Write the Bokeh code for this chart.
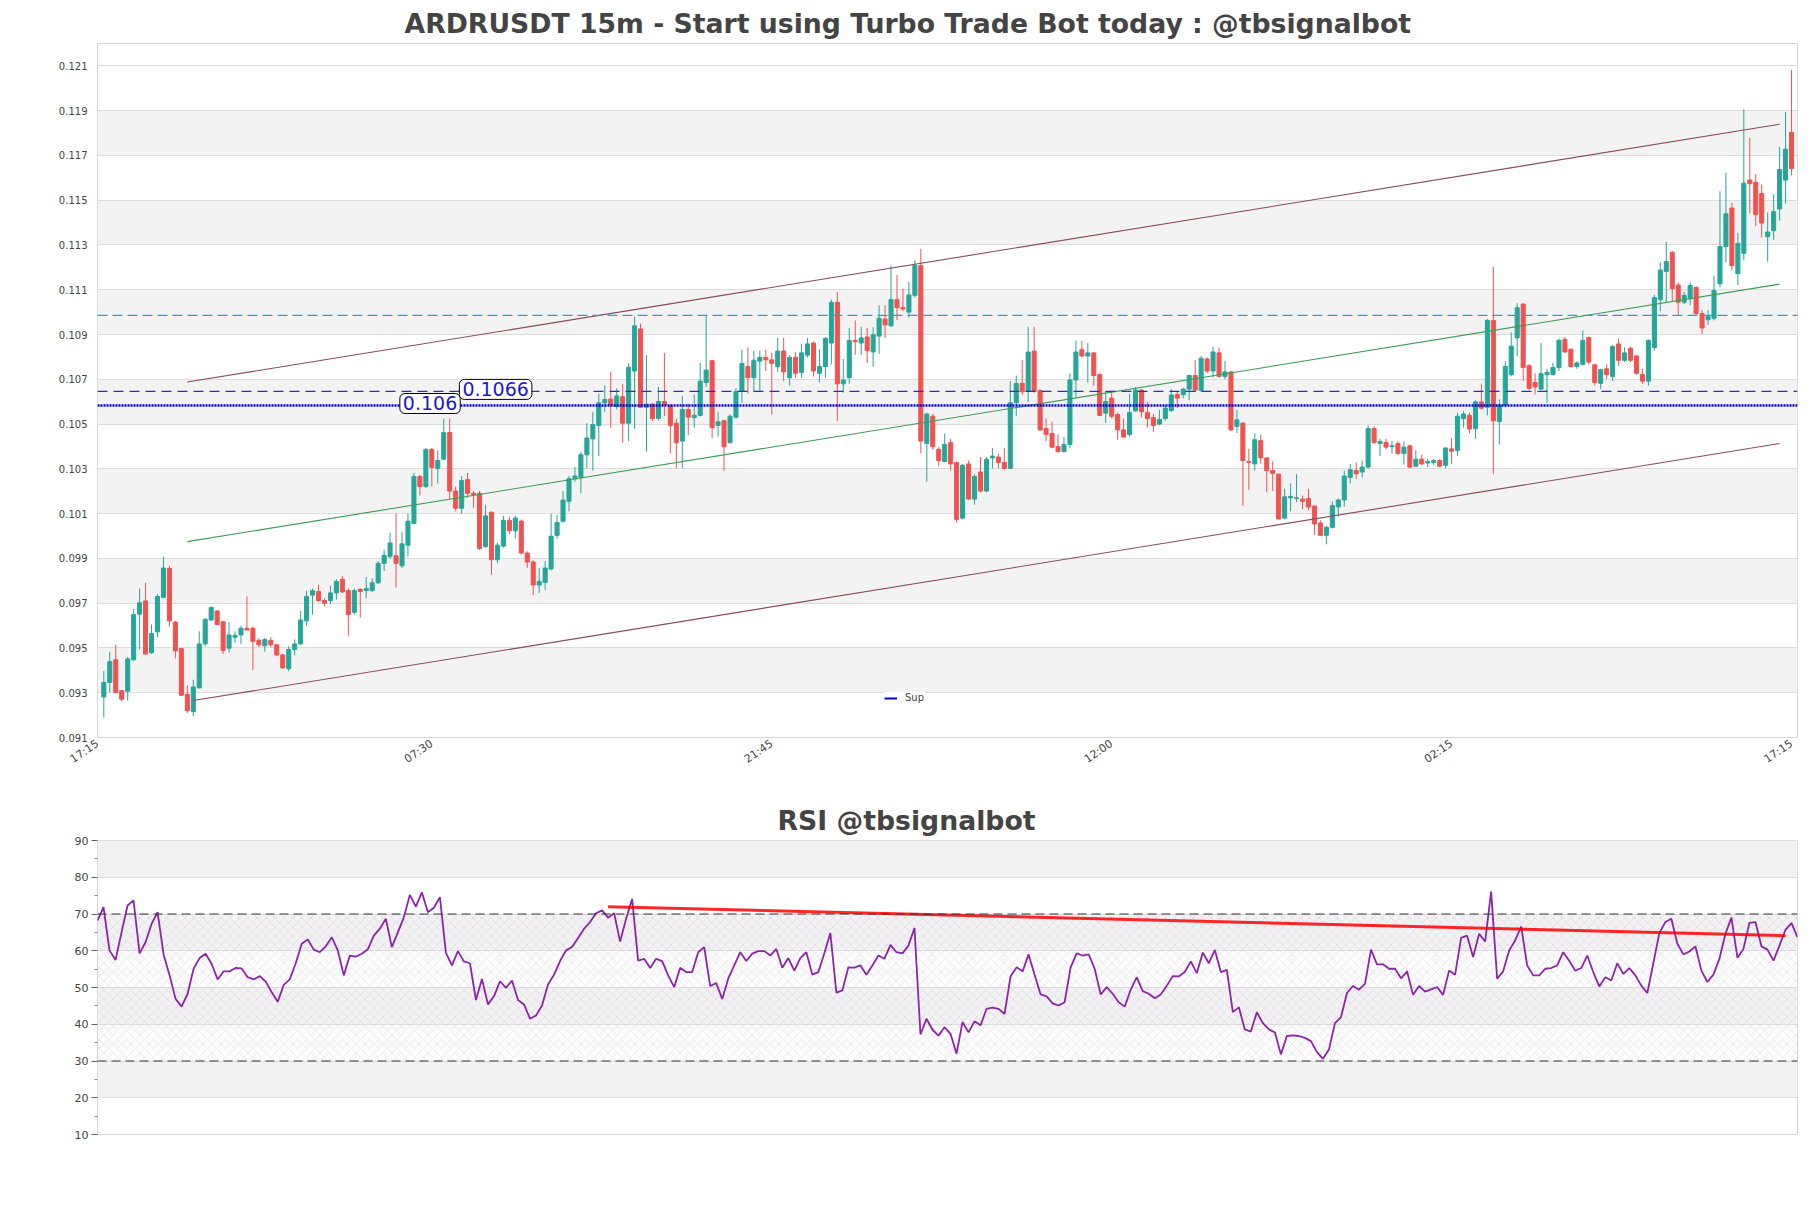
from bokeh.plotting import figure
from bokeh.layouts import column
from bokeh.models import (ColumnDataSource, FixedTicker, Span, BoxAnnotation, Label,
                          Legend, LegendItem, Range1d, PrintfTickFormatter)
from bokeh.embed import file_html
from bokeh.resources import INLINE

title_main = "ARDRUSDT 15m - Start using Turbo Trade Bot today : @tbsignalbot"
title_rsi = "RSI @tbsignalbot"

opens = [0.09281, 0.09346, 0.09447, 0.09309, 0.09307, 0.09447, 0.09651, 0.09710, 0.09479, 0.09572,
 0.09726, 0.09855, 0.09615, 0.09497, 0.09293, 0.09216, 0.09322, 0.09518, 0.09625, 0.09665,
 0.09617, 0.09499, 0.09548, 0.09558, 0.09588, 0.09588, 0.09534, 0.09510, 0.09534, 0.09514,
 0.09469, 0.09407, 0.09493, 0.09518, 0.09621, 0.09736, 0.09752, 0.09712, 0.09712, 0.09746,
 0.09807, 0.09756, 0.09659, 0.09762, 0.09756, 0.09756, 0.09791, 0.09878, 0.09908, 0.09912,
 0.09867, 0.09959, 0.10056, 0.10266, 0.10221, 0.10387, 0.10302, 0.10343, 0.10462, 0.10201,
 0.10124, 0.10252, 0.10191, 0.10191, 0.09952, 0.10106, 0.09894, 0.09955, 0.10070, 0.10023,
 0.10066, 0.09924, 0.09884, 0.09781, 0.09793, 0.09853, 0.10003, 0.10066, 0.10155, 0.10256,
 0.10262, 0.10363, 0.10434, 0.10494, 0.10595, 0.10612, 0.10579, 0.10622, 0.10504, 0.10737,
 0.10925, 0.10575, 0.10589, 0.10525, 0.10601, 0.10583, 0.10504, 0.10424, 0.10565, 0.10529,
 0.10539, 0.10686, 0.10783, 0.10494, 0.10515, 0.10417, 0.10531, 0.10646, 0.10757, 0.10707,
 0.10781, 0.10798, 0.10787, 0.10757, 0.10826, 0.10707, 0.10798, 0.10731, 0.10808, 0.10862,
 0.10727, 0.10757, 0.10862, 0.11044, 0.10680, 0.10707, 0.10874, 0.10862, 0.10889, 0.10822,
 0.10893, 0.10969, 0.10939, 0.11056, 0.11020, 0.11000, 0.11075, 0.11208, 0.10413, 0.10535,
 0.10387, 0.10333, 0.10417, 0.10328, 0.10080, 0.10322, 0.10165, 0.10286, 0.10201, 0.10349,
 0.10353, 0.10329, 0.10302, 0.10595, 0.10682, 0.10646, 0.10826, 0.10650, 0.10480, 0.10458,
 0.10399, 0.10377, 0.10409, 0.10697, 0.10832, 0.10804, 0.10818, 0.10721, 0.10549, 0.10616,
 0.10543, 0.10474, 0.10454, 0.10559, 0.10652, 0.10551, 0.10529, 0.10500, 0.10525, 0.10561,
 0.10632, 0.10632, 0.10656, 0.10717, 0.10650, 0.10791, 0.10737, 0.10818, 0.10713, 0.10733,
 0.10490, 0.10504, 0.10333, 0.10322, 0.10426, 0.10349, 0.10292, 0.10276, 0.10080, 0.10171,
 0.10167, 0.10165, 0.10167, 0.10134, 0.10058, 0.10003, 0.10039, 0.10130, 0.10161, 0.10262,
 0.10292, 0.10286, 0.10308, 0.10480, 0.10413, 0.10418, 0.10400, 0.10413, 0.10369, 0.10403,
 0.10312, 0.10343, 0.10326, 0.10329, 0.10337, 0.10316, 0.10389, 0.10383, 0.10525, 0.10539,
 0.10480, 0.10599, 0.10575, 0.10963, 0.10511, 0.10585, 0.10721, 0.10885, 0.11036, 0.10761,
 0.10686, 0.10656, 0.10721, 0.10721, 0.10753, 0.10878, 0.10834, 0.10757, 0.10767, 0.10887,
 0.10765, 0.10682, 0.10747, 0.10713, 0.10858, 0.10785, 0.10838, 0.10804, 0.10721, 0.10692,
 0.10842, 0.11056, 0.11182, 0.11267, 0.11121, 0.11044, 0.11060, 0.11111, 0.10994, 0.10966,
 0.10973, 0.11127, 0.11293, 0.11465, 0.11172, 0.11263, 0.11590, 0.11580, 0.11530, 0.11337,
 0.11364, 0.11461, 0.11590, 0.11803]

highs = [0.09398, 0.09483, 0.09514, 0.09309, 0.09459, 0.09675, 0.09766, 0.09791, 0.09605, 0.09742,
 0.09908, 0.09867, 0.09621, 0.09497, 0.09332, 0.09358, 0.09574, 0.09635, 0.09685, 0.09669,
 0.09621, 0.09615, 0.09574, 0.09599, 0.09730, 0.09595, 0.09544, 0.09544, 0.09548, 0.09518,
 0.09473, 0.09508, 0.09538, 0.09665, 0.09756, 0.09766, 0.09783, 0.09722, 0.09777, 0.09807,
 0.09821, 0.09766, 0.09766, 0.09766, 0.09817, 0.09811, 0.09888, 0.09938, 0.10015, 0.10100,
 0.10019, 0.10100, 0.10282, 0.10272, 0.10393, 0.10393, 0.10383, 0.10525, 0.10525, 0.10221,
 0.10268, 0.10282, 0.10201, 0.10201, 0.10140, 0.10110, 0.09969, 0.10090, 0.10086, 0.10090,
 0.10074, 0.09932, 0.09892, 0.09857, 0.09888, 0.10100, 0.10094, 0.10201, 0.10268, 0.10308,
 0.10377, 0.10504, 0.10555, 0.10636, 0.10672, 0.10733, 0.10660, 0.10680, 0.10773, 0.10980,
 0.10949, 0.10808, 0.10595, 0.10666, 0.10818, 0.10589, 0.10525, 0.10626, 0.10591, 0.10632,
 0.10773, 0.10988, 0.10787, 0.10555, 0.10519, 0.10543, 0.10660, 0.10832, 0.10842, 0.10828,
 0.10828, 0.10832, 0.10818, 0.10885, 0.10885, 0.10808, 0.10822, 0.10858, 0.10885, 0.10868,
 0.10834, 0.10889, 0.11056, 0.11089, 0.10791, 0.10929, 0.10963, 0.10935, 0.10929, 0.10933,
 0.11030, 0.11030, 0.11208, 0.11166, 0.11105, 0.11135, 0.11232, 0.11283, 0.10551, 0.10545,
 0.10397, 0.10458, 0.10434, 0.10333, 0.10322, 0.10337, 0.10276, 0.10353, 0.10353, 0.10393,
 0.10369, 0.10393, 0.10692, 0.10717, 0.10787, 0.10935, 0.10935, 0.10656, 0.10525, 0.10511,
 0.10454, 0.10444, 0.10727, 0.10874, 0.10872, 0.10862, 0.10822, 0.10727, 0.10646, 0.10646,
 0.10551, 0.10525, 0.10636, 0.10666, 0.10656, 0.10599, 0.10545, 0.10565, 0.10585, 0.10656,
 0.10646, 0.10662, 0.10721, 0.10787, 0.10804, 0.10798, 0.10846, 0.10842, 0.10781, 0.10737,
 0.10563, 0.10509, 0.10389, 0.10458, 0.10454, 0.10353, 0.10333, 0.10280, 0.10211, 0.10235,
 0.10276, 0.10181, 0.10211, 0.10136, 0.10070, 0.10046, 0.10155, 0.10167, 0.10292, 0.10322,
 0.10329, 0.10337, 0.10494, 0.10490, 0.10434, 0.10434, 0.10424, 0.10422, 0.10422, 0.10409,
 0.10383, 0.10363, 0.10345, 0.10343, 0.10343, 0.10397, 0.10438, 0.10551, 0.10559, 0.10551,
 0.10606, 0.10680, 0.10969, 0.11202, 0.10610, 0.10781, 0.10909, 0.11040, 0.11040, 0.10767,
 0.10727, 0.10862, 0.10747, 0.10773, 0.10882, 0.10889, 0.10838, 0.10781, 0.10919, 0.10891,
 0.10769, 0.10747, 0.10767, 0.10854, 0.10882, 0.10842, 0.10846, 0.10808, 0.10747, 0.10878,
 0.11077, 0.11222, 0.11313, 0.11273, 0.11131, 0.11091, 0.11133, 0.11115, 0.11010, 0.11010,
 0.11162, 0.11540, 0.11623, 0.11489, 0.11354, 0.11906, 0.11778, 0.11617, 0.11570, 0.11445,
 0.11526, 0.11738, 0.11894, 0.12082]

lows = [0.09190, 0.09301, 0.09297, 0.09261, 0.09265, 0.09443, 0.09493, 0.09469, 0.09473, 0.09548,
 0.09722, 0.09595, 0.09453, 0.09285, 0.09210, 0.09196, 0.09318, 0.09508, 0.09621, 0.09601,
 0.09473, 0.09479, 0.09524, 0.09518, 0.09580, 0.09402, 0.09504, 0.09483, 0.09504, 0.09463,
 0.09407, 0.09396, 0.09467, 0.09514, 0.09599, 0.09649, 0.09706, 0.09686, 0.09696, 0.09716,
 0.09746, 0.09554, 0.09649, 0.09635, 0.09722, 0.09750, 0.09787, 0.09843, 0.09898, 0.09770,
 0.09857, 0.09908, 0.10054, 0.10181, 0.10215, 0.10221, 0.10235, 0.10343, 0.10165, 0.10110,
 0.10100, 0.10171, 0.10126, 0.09938, 0.09948, 0.09827, 0.09878, 0.09948, 0.10009, 0.09989,
 0.09918, 0.09857, 0.09736, 0.09746, 0.09760, 0.09847, 0.09989, 0.10060, 0.10110, 0.10242,
 0.10191, 0.10302, 0.10292, 0.10357, 0.10555, 0.10484, 0.10565, 0.10417, 0.10424, 0.10478,
 0.10571, 0.10377, 0.10515, 0.10515, 0.10535, 0.10369, 0.10302, 0.10302, 0.10450, 0.10484,
 0.10535, 0.10666, 0.10438, 0.10444, 0.10292, 0.10413, 0.10525, 0.10595, 0.10636, 0.10646,
 0.10646, 0.10737, 0.10543, 0.10733, 0.10692, 0.10672, 0.10707, 0.10707, 0.10798, 0.10713,
 0.10686, 0.10707, 0.10767, 0.10515, 0.10640, 0.10680, 0.10808, 0.10808, 0.10773, 0.10757,
 0.10814, 0.10885, 0.10935, 0.10965, 0.11004, 0.10976, 0.11065, 0.10369, 0.10242, 0.10387,
 0.10312, 0.10329, 0.10292, 0.10060, 0.10074, 0.10161, 0.10140, 0.10195, 0.10195, 0.10302,
 0.10302, 0.10296, 0.10300, 0.10535, 0.10630, 0.10599, 0.10640, 0.10470, 0.10424, 0.10393,
 0.10373, 0.10373, 0.10393, 0.10616, 0.10798, 0.10686, 0.10672, 0.10535, 0.10504, 0.10525,
 0.10430, 0.10442, 0.10444, 0.10555, 0.10531, 0.10484, 0.10464, 0.10494, 0.10515, 0.10555,
 0.10571, 0.10616, 0.10606, 0.10646, 0.10644, 0.10727, 0.10707, 0.10707, 0.10701, 0.10470,
 0.10460, 0.10134, 0.10205, 0.10292, 0.10322, 0.10195, 0.10201, 0.10074, 0.10074, 0.10110,
 0.10151, 0.10120, 0.10114, 0.10005, 0.09999, 0.09963, 0.10033, 0.10086, 0.10130, 0.10235,
 0.10256, 0.10262, 0.10302, 0.10413, 0.10357, 0.10387, 0.10369, 0.10363, 0.10320, 0.10302,
 0.10308, 0.10316, 0.10308, 0.10316, 0.10308, 0.10302, 0.10322, 0.10357, 0.10484, 0.10458,
 0.10434, 0.10565, 0.10539, 0.10276, 0.10409, 0.10575, 0.10713, 0.10802, 0.10692, 0.10652,
 0.10632, 0.10652, 0.10595, 0.10717, 0.10737, 0.10818, 0.10753, 0.10747, 0.10761, 0.10767,
 0.10672, 0.10656, 0.10701, 0.10692, 0.10761, 0.10777, 0.10777, 0.10721, 0.10680, 0.10672,
 0.10828, 0.11004, 0.11044, 0.11050, 0.10984, 0.11036, 0.11030, 0.10984, 0.10903, 0.10943,
 0.10963, 0.11111, 0.11222, 0.11186, 0.11121, 0.11232, 0.11441, 0.11384, 0.11333, 0.11226,
 0.11323, 0.11408, 0.11485, 0.11610]

closes = [0.09346, 0.09439, 0.09301, 0.09271, 0.09451, 0.09649, 0.09702, 0.09473, 0.09564, 0.09730,
 0.09857, 0.09621, 0.09487, 0.09289, 0.09220, 0.09326, 0.09518, 0.09627, 0.09681, 0.09605,
 0.09489, 0.09558, 0.09556, 0.09588, 0.09580, 0.09530, 0.09514, 0.09538, 0.09514, 0.09469,
 0.09411, 0.09493, 0.09518, 0.09625, 0.09730, 0.09756, 0.09712, 0.09700, 0.09746, 0.09797,
 0.09750, 0.09649, 0.09756, 0.09752, 0.09766, 0.09791, 0.09878, 0.09914, 0.09969, 0.09878,
 0.09965, 0.10066, 0.10266, 0.10221, 0.10387, 0.10306, 0.10337, 0.10462, 0.10201, 0.10124,
 0.10248, 0.10191, 0.10185, 0.09944, 0.10090, 0.09894, 0.09959, 0.10070, 0.10023, 0.10080,
 0.09924, 0.09884, 0.09781, 0.09797, 0.09857, 0.09999, 0.10060, 0.10161, 0.10256, 0.10268,
 0.10363, 0.10438, 0.10498, 0.10595, 0.10610, 0.10585, 0.10626, 0.10504, 0.10753, 0.10939,
 0.10575, 0.10589, 0.10525, 0.10601, 0.10585, 0.10494, 0.10417, 0.10565, 0.10531, 0.10539,
 0.10692, 0.10741, 0.10484, 0.10510, 0.10399, 0.10535, 0.10646, 0.10771, 0.10707, 0.10785,
 0.10798, 0.10787, 0.10771, 0.10826, 0.10733, 0.10798, 0.10727, 0.10818, 0.10858, 0.10737,
 0.10757, 0.10882, 0.11044, 0.10680, 0.10697, 0.10874, 0.10868, 0.10885, 0.10828, 0.10899,
 0.10973, 0.10943, 0.11056, 0.11020, 0.11014, 0.11077, 0.11208, 0.10424, 0.10545, 0.10399,
 0.10337, 0.10409, 0.10322, 0.10074, 0.10316, 0.10165, 0.10266, 0.10201, 0.10343, 0.10357,
 0.10329, 0.10302, 0.10595, 0.10682, 0.10644, 0.10822, 0.10646, 0.10474, 0.10454, 0.10397,
 0.10377, 0.10409, 0.10697, 0.10822, 0.10804, 0.10818, 0.10717, 0.10539, 0.10601, 0.10535,
 0.10474, 0.10442, 0.10551, 0.10652, 0.10555, 0.10525, 0.10494, 0.10521, 0.10571, 0.10630,
 0.10616, 0.10656, 0.10717, 0.10652, 0.10794, 0.10737, 0.10822, 0.10713, 0.10733, 0.10474,
 0.10519, 0.10337, 0.10329, 0.10430, 0.10349, 0.10292, 0.10280, 0.10076, 0.10175, 0.10177,
 0.10171, 0.10155, 0.10130, 0.10054, 0.10003, 0.10039, 0.10136, 0.10161, 0.10268, 0.10296,
 0.10278, 0.10308, 0.10480, 0.10417, 0.10422, 0.10397, 0.10403, 0.10369, 0.10397, 0.10308,
 0.10343, 0.10322, 0.10333, 0.10337, 0.10312, 0.10393, 0.10379, 0.10535, 0.10545, 0.10478,
 0.10599, 0.10571, 0.10963, 0.10515, 0.10585, 0.10757, 0.10848, 0.11020, 0.10753, 0.10660,
 0.10666, 0.10725, 0.10731, 0.10753, 0.10874, 0.10822, 0.10757, 0.10773, 0.10874, 0.10777,
 0.10686, 0.10743, 0.10721, 0.10846, 0.10785, 0.10818, 0.10785, 0.10727, 0.10692, 0.10874,
 0.11065, 0.11188, 0.11226, 0.11105, 0.11044, 0.11075, 0.11119, 0.10994, 0.10929, 0.10980,
 0.11097, 0.11293, 0.11439, 0.11208, 0.11307, 0.11576, 0.11574, 0.11435, 0.11398, 0.11358,
 0.11449, 0.11637, 0.11728, 0.11641]

rsi = [68.2, 71.9, 60.1, 57.5, 65.0, 72.3, 73.7, 59.3, 62.3, 67.3,
 70.5, 59.0, 53.3, 46.9, 44.8, 48.3, 55.1, 58.0, 59.2, 56.4,
 52.2, 54.4, 54.4, 55.3, 55.2, 52.8, 52.2, 53.1, 51.6, 48.7,
 46.1, 50.7, 52.2, 56.6, 61.9, 63.1, 60.3, 59.6, 61.2, 63.7,
 60.1, 53.3, 58.7, 58.4, 59.2, 60.4, 64.1, 66.0, 68.7, 61.0,
 65.0, 69.1, 75.2, 72.0, 75.9, 70.5, 71.7, 74.6, 59.4, 56.0,
 59.9, 57.1, 56.6, 46.6, 52.3, 45.4, 47.6, 51.7, 49.9, 51.9,
 46.6, 45.4, 41.5, 42.4, 45.1, 50.8, 53.5, 57.2, 60.1, 61.0,
 63.5, 66.0, 67.8, 70.2, 71.0, 69.0, 70.2, 62.5, 68.7, 74.1,
 57.3, 57.8, 55.3, 57.8, 57.2, 53.3, 50.1, 55.4, 54.2, 54.2,
 59.6, 61.0, 50.4, 51.2, 46.9, 52.4, 56.0, 59.6, 57.2, 59.2,
 59.9, 59.9, 58.7, 60.5, 55.4, 58.0, 54.6, 58.0, 59.6, 53.5,
 54.2, 59.3, 64.8, 48.6, 49.2, 55.5, 55.4, 56.0, 53.5, 56.0,
 58.7, 57.8, 61.6, 59.6, 59.3, 61.4, 66.2, 37.2, 41.5, 38.5,
 36.9, 39.2, 37.4, 32.0, 40.6, 37.8, 40.8, 39.7, 44.2, 44.5,
 44.2, 42.8, 53.0, 55.5, 54.4, 59.0, 53.5, 48.1, 47.6, 45.7,
 45.1, 46.0, 55.5, 59.3, 58.7, 59.0, 55.1, 48.1, 50.1, 48.3,
 46.0, 44.8, 49.4, 52.8, 49.0, 48.3, 47.1, 48.1, 50.5, 53.1,
 53.0, 54.2, 57.1, 53.9, 59.5, 56.6, 60.2, 54.2, 54.8, 43.3,
 44.6, 38.6, 38.0, 43.3, 40.3, 38.6, 37.8, 31.8, 36.8, 37.0,
 36.8, 36.3, 35.4, 32.4, 30.6, 33.1, 40.3, 41.9, 48.5, 50.4,
 49.4, 51.0, 60.3, 56.3, 56.3, 55.1, 55.1, 52.5, 54.4, 48.0,
 50.4, 48.9, 49.5, 50.1, 48.0, 54.6, 53.5, 63.5, 64.1, 58.3,
 64.6, 62.5, 76.1, 52.4, 54.4, 60.1, 62.8, 66.6, 56.0, 53.3,
 53.3, 55.1, 55.3, 56.0, 59.6, 57.3, 54.6, 55.3, 58.7, 54.2,
 50.3, 52.8, 51.9, 56.6, 53.7, 55.3, 53.3, 50.5, 48.5, 56.6,
 64.8, 67.8, 68.7, 61.9, 59.0, 59.8, 61.2, 54.6, 51.5, 53.5,
 57.8, 64.6, 69.0, 58.1, 60.5, 67.6, 67.8, 61.2, 60.3, 57.3,
 61.4, 65.7, 67.5, 63.7]

x_tick_pos = [-1.05, 55, 112, 169, 226, 283]
x_tick_labels = ["17:15", "07:30", "21:45", "12:00", "02:15", "17:15"]
y_ticks = [0.091, 0.093, 0.095, 0.097, 0.099, 0.101, 0.103, 0.105, 0.107, 0.109,
           0.111, 0.113, 0.115, 0.117, 0.119, 0.121]
price_band_bottoms = [0.093, 0.097, 0.101, 0.105, 0.109, 0.113, 0.117]
price_band_tops = [0.095, 0.099, 0.103, 0.107, 0.111, 0.115, 0.119]

sup_level = 0.10583
res_level = 0.10646
cyan_level = 0.10986
sup_text, sup_text_x = "0.106", 54.7
res_text, res_text_x = "0.1066", 65.7

upper_x, upper_y = [14, 281], [0.10688, 0.11839]
middle_x, middle_y = [14, 281], [0.09975, 0.11125]
lower_x, lower_y = [15, 281], [0.09265, 0.10413]

rsi_ticks = [10, 20, 30, 40, 50, 60, 70, 80, 90]
rsi_minor = [15, 25, 35, 45, 55, 65, 75, 85]
rsi_band_bottoms = [20, 40, 60, 80]
rsi_band_tops = [30, 50, 70, 90]
rsi_levels = [30, 70]
rsi_trend_x, rsi_trend_y = [85, 281], [72.0, 64.1]

FONT = "DejaVu Sans"
TXT = "#444444"
GREEN = "#26a69a"
RED = "#ef5350"
W = 1803
LEFT = 97

# ---------------- main candlestick chart ----------------
p = figure(width=W, height=796, x_range=Range1d(-1.06, 284.0), y_range=Range1d(0.091, 0.122),
           output_backend="svg", toolbar_location=None,
           min_border_left=LEFT, min_border_right=6, min_border_top=43, min_border_bottom=59)
p.title.text = title_main
p.title.align = "left"
p.title.offset = 307
p.title.text_font = FONT
p.title.text_font_size = "26.7px"
p.title.text_font_style = "bold"
p.title.text_color = TXT
p.title.standoff = 10
p.outline_line_color = "#d6d6d6"
p.background_fill_color = "white"
p.border_fill_color = "white"

for b, t in zip(price_band_bottoms, price_band_tops):
    p.add_layout(BoxAnnotation(bottom=b, top=t, fill_color="#f3f3f3", fill_alpha=1,
                               line_alpha=0, level="image"))

p.xgrid.visible = False
p.ygrid.ticker = FixedTicker(ticks=y_ticks)
p.ygrid.grid_line_color = "#dcdcdc"
p.ygrid.grid_line_width = 1

p.yaxis.ticker = FixedTicker(ticks=y_ticks)
p.yaxis.formatter = PrintfTickFormatter(format="%.3f")
p.yaxis.major_tick_line_color = None
p.yaxis.minor_tick_line_color = None
p.yaxis.major_tick_out = 0
p.yaxis.axis_line_color = None
p.yaxis.major_label_standoff = 10
p.yaxis.major_label_text_font = FONT
p.yaxis.major_label_text_font_size = "10px"
p.yaxis.major_label_text_color = TXT

p.xaxis.ticker = FixedTicker(ticks=x_tick_pos)
p.xaxis.major_label_overrides = {pos: lab for pos, lab in zip(x_tick_pos, x_tick_labels)}
p.xaxis.major_label_orientation = 0.6
p.xaxis.major_tick_line_color = None
p.xaxis.minor_tick_line_color = None
p.xaxis.major_tick_out = 0
p.xaxis.axis_line_color = None
p.xaxis.major_label_standoff = 5
p.xaxis.major_label_text_font = FONT
p.xaxis.major_label_text_font_size = "11px"
p.xaxis.major_label_text_color = TXT

idx = list(range(len(opens)))
colors = [GREEN if c >= o else RED for o, c in zip(opens, closes)]
src = ColumnDataSource(dict(
    x=idx, h=highs, l=lows,
    top=[max(o, c) for o, c in zip(opens, closes)],
    bottom=[min(o, c) for o, c in zip(opens, closes)],
    color=colors))
p.segment(x0="x", y0="l", x1="x", y1="h", line_color="color", line_width=1, source=src)
p.vbar(x="x", width=0.68, top="top", bottom="bottom", fill_color="color",
       line_color="color", line_width=1, source=src)

p.line(upper_x, upper_y, line_color="#8a4b5c", line_width=1.1)
p.line(lower_x, lower_y, line_color="#8a4b5c", line_width=1.1)
p.line(middle_x, middle_y, line_color="#3d9c55", line_width=1.1)

p.add_layout(Span(location=cyan_level, dimension="width", line_color="#2a9fd6",
                  line_width=1.3, line_dash="10 5"))
p.add_layout(Span(location=res_level, dimension="width", line_color="#2b2bcf",
                  line_width=1.2, line_dash="10 6"))
p.add_layout(Span(location=sup_level, dimension="width", line_color="#0000cc",
                  line_width=2.5, line_dash="2 1"))

for txt, xx, yy in [(sup_text, sup_text_x, sup_level), (res_text, res_text_x, res_level)]:
    p.add_layout(Label(x=xx, y=yy, y_offset=2, text=txt, text_align="center",
                       text_baseline="middle",
                       text_font=FONT, text_font_size="19px", text_color="#1a1acc",
                       background_fill_color="white", background_fill_alpha=1,
                       border_line_color="black", border_line_width=1,
                       padding=3, border_radius=5))

# legend glyph renderer kept outside the visible x range
sup_glyph = p.line(x=[-30, -20], y=[sup_level, sup_level], line_color="#0000cc", line_width=2)
legend = Legend(items=[LegendItem(label="Sup", renderers=[sup_glyph])], location=(787, 34),
                label_text_font=FONT, label_text_font_size="10px", label_text_color=TXT,
                glyph_width=13, glyph_height=8, padding=4, margin=0, label_standoff=8,
                background_fill_color="white", background_fill_alpha=1, border_line_color=None)
p.add_layout(legend)

# ---------------- RSI chart ----------------
p2 = figure(width=W, height=397, x_range=Range1d(0, 283), y_range=Range1d(10, 90),
            output_backend="svg", toolbar_location=None,
            min_border_left=LEFT, min_border_right=6, min_border_top=44, min_border_bottom=59)
p2.title.text = title_rsi
p2.title.align = "left"
p2.title.offset = 680
p2.title.text_font = FONT
p2.title.text_font_size = "26.7px"
p2.title.text_font_style = "bold"
p2.title.text_color = TXT
p2.title.standoff = 10
p2.outline_line_color = "#d6d6d6"

for b, t in zip(rsi_band_bottoms, rsi_band_tops):
    p2.add_layout(BoxAnnotation(bottom=b, top=t, fill_color="#f2f2f2", fill_alpha=1,
                                line_alpha=0, level="image"))
p2.add_layout(BoxAnnotation(bottom=rsi_levels[0], top=rsi_levels[1], fill_alpha=0, line_alpha=0,
                            hatch_pattern="diagonal_cross", hatch_color="#b9a6cc",
                            hatch_alpha=0.4, hatch_scale=9, hatch_weight=0.6, level="underlay"))

p2.xgrid.visible = False
p2.xaxis.visible = False
p2.ygrid.ticker = FixedTicker(ticks=rsi_ticks)
p2.ygrid.grid_line_color = "#dcdcdc"
p2.yaxis.ticker = FixedTicker(ticks=rsi_ticks, minor_ticks=rsi_minor)
p2.yaxis.axis_line_color = None
p2.yaxis.major_tick_line_color = "#666666"
p2.yaxis.minor_tick_line_color = "#888888"
p2.yaxis.major_tick_out = 6
p2.yaxis.major_tick_in = 0
p2.yaxis.minor_tick_out = 3
p2.yaxis.minor_tick_in = 0
p2.yaxis.major_label_standoff = 3
p2.yaxis.major_label_text_font = FONT
p2.yaxis.major_label_text_font_size = "11px"
p2.yaxis.major_label_text_color = TXT

for lv in rsi_levels:
    p2.add_layout(Span(location=lv, dimension="width", line_color="#333333",
                       line_width=1, line_dash="9 5"))

p2.line(list(range(len(rsi))), rsi, line_color="#8e24aa", line_width=1.8)
p2.line(rsi_trend_x, rsi_trend_y, line_color="#ff0000", line_width=3, line_alpha=0.85)

layout = column(p, p2)
open("out.html", "w").write(file_html(layout, INLINE))
